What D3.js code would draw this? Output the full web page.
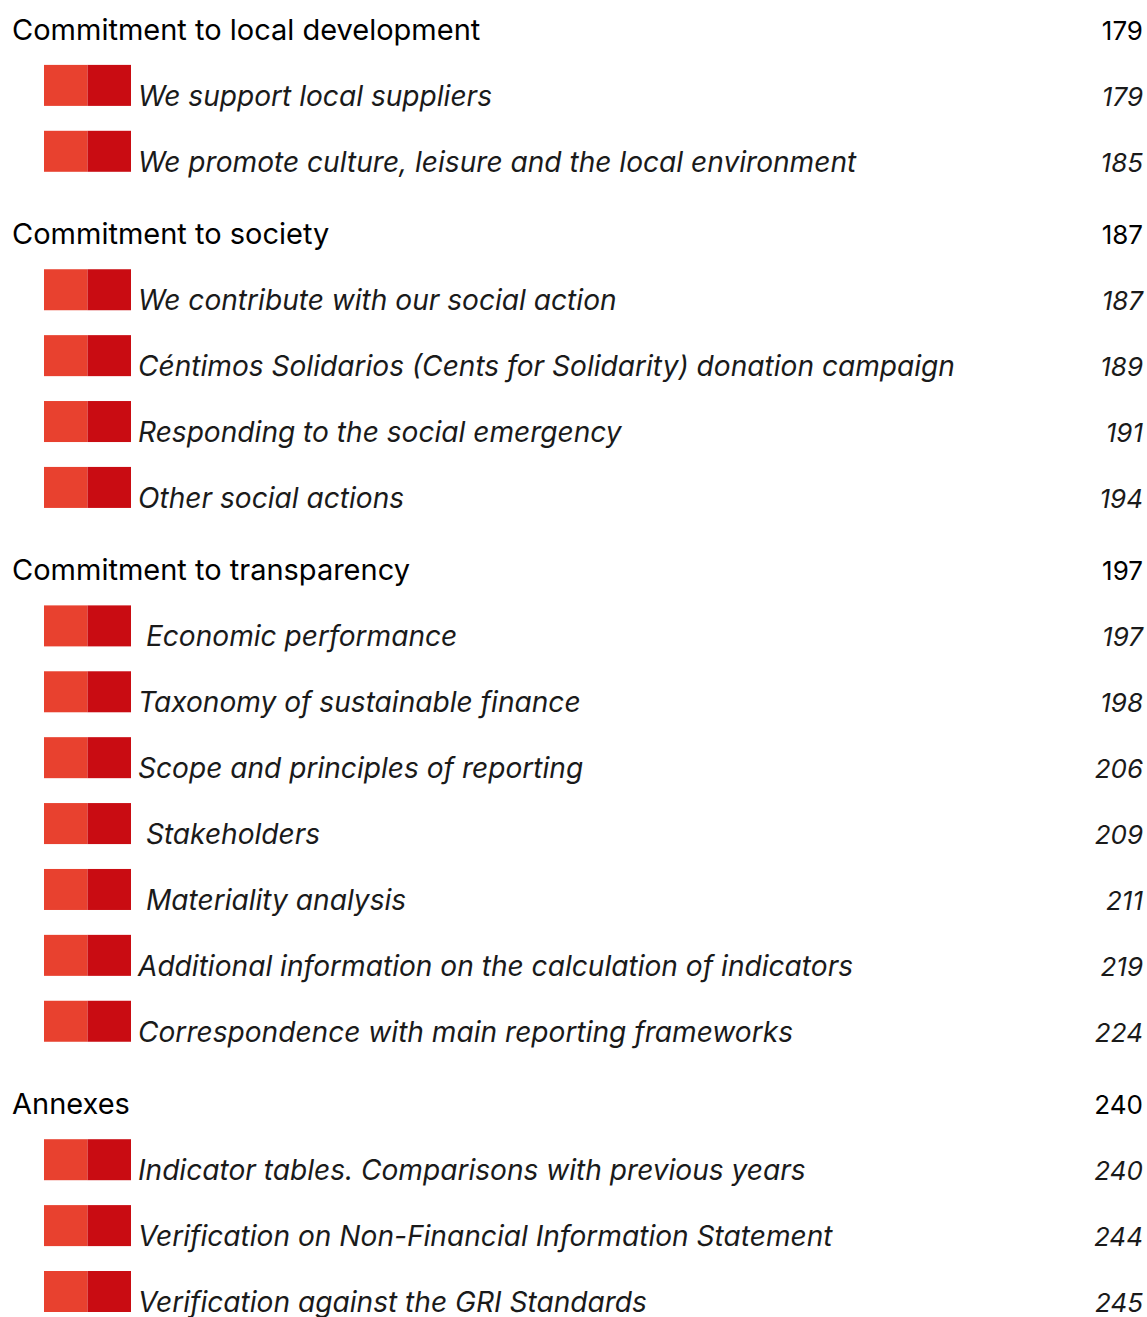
<!DOCTYPE html>
<html><head><meta charset="utf-8">
<script src="https://cdn.jsdelivr.net/npm/d3@7"></script>
<style>
html,body{margin:0;padding:0;background:#fff;}
svg text{white-space:pre;}
</style></head>
<body>
<svg id="c" width="1147" height="1317"></svg>
<script>
// Section headings and their page numbers
const headings = ["Commitment to local development","Commitment to society","Commitment to transparency","Annexes"];
const headingPages = [179, 187, 197, 240];
// Items per section
const items0 = ["We support local suppliers","We promote culture, leisure and the local environment"];
const pages0 = [179, 185];
const items1 = ["We contribute with our social action","Céntimos Solidarios (Cents for Solidarity) donation campaign","Responding to the social emergency","Other social actions"];
const pages1 = [187, 189, 191, 194];
const items2 = [" Economic performance","Taxonomy of sustainable finance","Scope and principles of reporting"," Stakeholders"," Materiality analysis","Additional information on the calculation of indicators","Correspondence with main reporting frameworks"];
const pages2 = [197, 198, 206, 209, 211, 219, 224];
const items3 = ["Indicator tables. Comparisons with previous years","Verification on Non-Financial Information Statement","Verification against the GRI Standards"];
const pages3 = [240, 244, 245];

const itemLists = [items0, items1, items2, items3];
const pageLists = [pages0, pages1, pages2, pages3];

// Build rows
const rows = [];
let idx = 0;
headings.forEach((h, s) => {
  rows.push({type: "h", label: h, page: headingPages[s], idx: idx++, sec: s});
  itemLists[s].forEach((t, j) => rows.push({type: "i", label: t, page: pageLists[s][j], idx: idx++, sec: s}));
});

const svg = d3.select("#c");
const font = "Inter, 'Open Sans', sans-serif";
const yIdx = d3.scaleLinear().domain([0, 19]).range([30, 1282]);
const secOff = d3.scaleLinear().domain([0, 3]).range([0, 20]);
const y = r => yIdx(r.idx) + secOff(r.sec);

const xSq = d3.scaleLinear().domain([0, 2]).range([44, 131]);
const sqColors = ["#E8412F", "#C90C12"];

const g = svg.append("g");
const rowG = g.selectAll("g.row").data(rows).join("g").attr("class", "row");

// squares
rowG.filter(d => d.type === "i").each(function(d) {
  const sel = d3.select(this);
  [0, 1].forEach(k => {
    sel.append("rect")
      .attr("x", xSq(k)).attr("y", y(d) - 31)
      .attr("width", xSq(k + 1) - xSq(k)).attr("height", 41)
      .attr("fill", sqColors[k]);
  });
});

// labels
rowG.append("text")
  .attr("x", d => d.type === "h" ? 12 : 138)
  .attr("y", d => y(d) + 10)
  .attr("font-family", font)
  .attr("font-size", d => d.type === "h" ? 29 : 28.1)
  .attr("font-style", d => d.type === "h" ? "normal" : "italic")
  .attr("font-weight", 400)
  .attr("fill", d => d.type === "h" ? "#000" : "#1a1a1a")
  .text(d => d.label);

// pages
rowG.append("text")
  .attr("x", 1143)
  .attr("y", d => y(d) + 10)
  .attr("text-anchor", "end")
  .attr("font-family", font)
  .attr("font-size", 26)
  .attr("font-style", d => d.type === "h" ? "normal" : "italic")
  .attr("fill", d => d.type === "h" ? "#000" : "#1a1a1a")
  .text(d => d.page);
</script>
</body></html>
